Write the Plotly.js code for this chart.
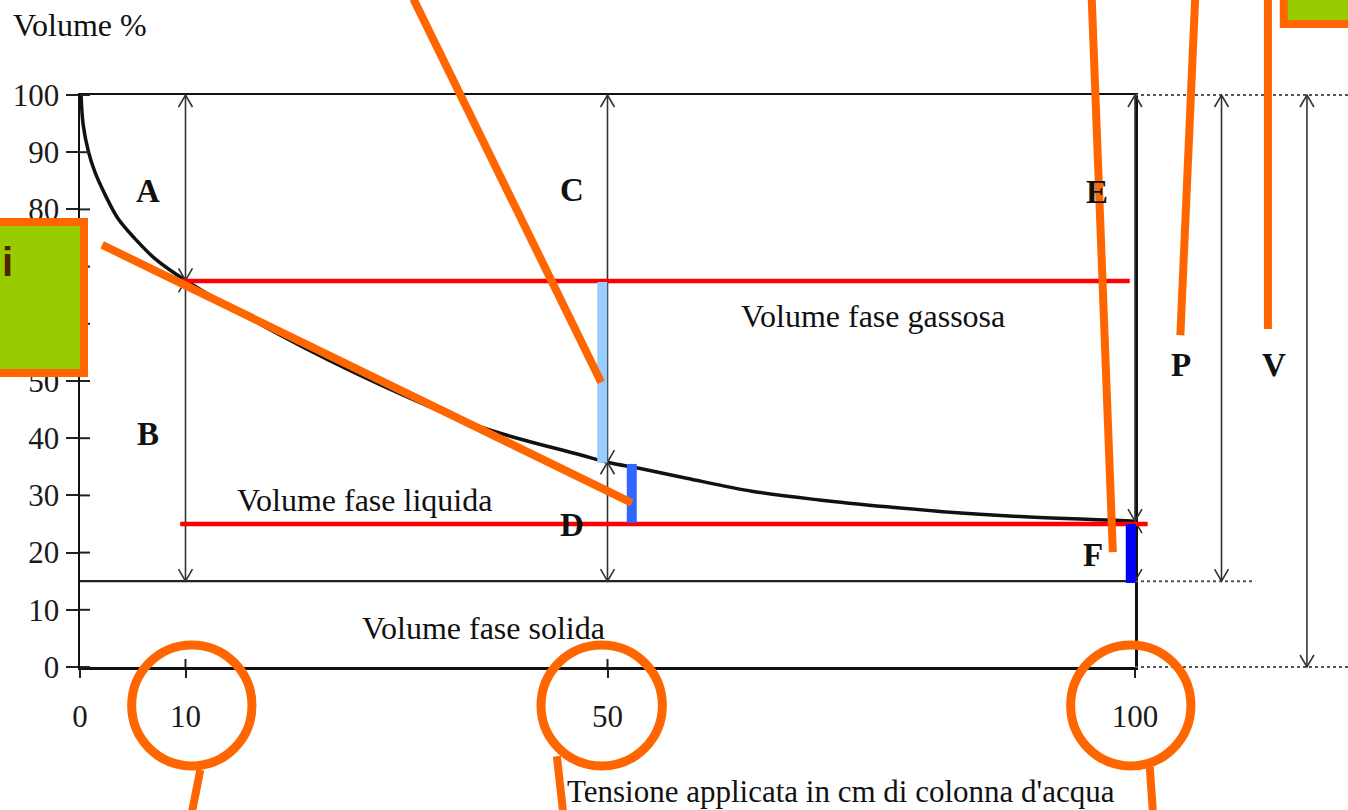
<!DOCTYPE html>
<html>
<head>
<meta charset="utf-8">
<script src="https://cdn.plot.ly/plotly-3.0.1.min.js"></script>
<style>
  body { margin: 0; background: #fff; }
  #chart { width: 1348px; height: 810px; }
</style>
</head>
<body>
<div id="chart"></div>
<script>
// curve: applied tension (cm water) vs volume %
const tension = [0.1, 0.3, 0.8, 1.4, 2.4, 3.6, 5.2, 7.1, 10, 19, 28.4, 37.9, 47.4, 50, 53.1, 57.5, 63.8, 70.1, 76.5, 82.8, 89.1, 100];
const volume = [100, 94.8, 90.1, 86.6, 82.5, 78.4, 74.9, 71.4, 67.6, 58, 49.4, 42, 37.1, 35.8, 34.7, 33.0, 30.7, 29.2, 28.0, 27.0, 26.3, 25.5];

const xTicks = [0, 10, 50, 100];
const yTicks = [0, 10, 20, 30, 40, 50, 60, 70, 80, 90, 100];

// phase levels
const solidTop = 15;
const levelAt10 = 67.6;
const levelAt50 = 35.8;
const levelAt100 = 25.5;

// double arrow columns (x, then the y stops between heads)
const arrowX = [10, 50, 100, 108.2, 116.3];
const arrowStops = [
  [100, levelAt10, solidTop],
  [100, levelAt50, solidTop],
  [100, levelAt100, solidTop],
  [100, solidTop],
  [100, 0],
];

const letters = ['A', 'B', 'C', 'D', 'E', 'F', 'P', 'V'];
const letterX = [6.4, 6.4, 46.6, 46.6, 96.4, 96.0, 104.4, 113.2];
const letterY = [83.2, 40.7, 83.4, 24.8, 83.0, 19.6, 52.8, 52.8];

const phaseText = ['Volume fase gassosa', 'Volume fase liquida', 'Volume fase solida'];
const phaseX = [75.2, 27.0, 38.2];
const phaseY = [61.4, 29.2, 6.8];

// highlight overlays added on top of the scan
const redY = [67.5, 25.0];
const redFrom = [9.6, 9.5];
const redTo = [99.5, 101.2];

const barX = [49.5, 52.3, 99.6];
const barFrom = [67.3, 35.5, 25.0];
const barTo = [35.7, 25.2, 14.7];
const barColor = ['#99CCFF', '#3366FF', '#0000FF'];

// orange pointer lines: [x0, y0, x1, y1]
const pointers = [
  [31.6, 116.8, 49.4, 49.8],
  [2.1, 73.8, 52.3, 28.7],
  [95.9, 116.8, 97.9, 20.1],
  [105.7, 116.8, 104.3, 58.0],
  [112.6, 116.8, 112.6, 59.1],
  [11.4, -18.0, 10.6, -25.5],
  [45.2, -15.6, 45.8, -25.5],
  [101.4, -17.5, 101.7, -25.5],
];

// circled ticks: [x0, x1, y0, y1]
const rings = [
  [4.9, 16.3, 3.85, -17.3],
  [43.7, 55.2, 3.85, -17.3],
  [93.9, 105.3, 3.85, -17.3],
];

// green boxes: [x0, x1, y0, y1]
const boxes = [
  [-12, 0.38, 51.4, 77.8],
  [114.1, 130, 112.4, 125],
];

const P = (v) => v / 100; // both axes run 0..100 over the full domain

function seg(x0, y0, x1, y1, color, width, dash) {
  return {
    type: 'line', xref: 'paper', yref: 'paper', layer: 'above',
    x0: P(x0), y0: P(y0), x1: P(x1), y1: P(y1),
    line: { color, width, dash: dash || 'solid' },
  };
}

function chevron(x, y, dir) {
  const dx = 0.66;
  const dy = 2.1 * dir;
  return {
    type: 'path', xref: 'paper', yref: 'paper', layer: 'above',
    path: `M ${P(x - dx)},${P(y - dy)} L ${P(x)},${P(y)} L ${P(x + dx)},${P(y - dy)}`,
    line: { color: '#333', width: 1.6 },
  };
}

const shapes = [];

// inner halves of the tick crosses
yTicks.forEach((v) => shapes.push(seg(0, v, 0.95, v, '#222', 2)));
[10, 50].forEach((v) => shapes.push(seg(v, 0, v, 1.4, '#222', 2)));

// solid phase line and dotted extensions
shapes.push(seg(0, solidTop, 100, solidTop, '#222', 2.2));
shapes.push(seg(100, 100, 120.5, 100, '#555', 2, 'dot'));
shapes.push(seg(100, solidTop, 111.4, solidTop, '#555', 2, 'dot'));
shapes.push(seg(100, 0, 120.5, 0, '#555', 2, 'dot'));

// double arrows
arrowX.forEach((x, i) => {
  const stops = arrowStops[i];
  for (let k = 0; k < stops.length - 1; k += 1) {
    const top = stops[k];
    const bot = stops[k + 1];
    shapes.push(seg(x, top, x, bot, '#333', 1.6));
    shapes.push(chevron(x, top, 1));
    shapes.push(chevron(x, bot, -1));
  }
});

redY.forEach((y, i) => shapes.push(seg(redFrom[i], y, redTo[i], y, '#FF0000', 4.5)));
barX.forEach((x, i) => shapes.push(seg(x, barFrom[i], x, barTo[i], barColor[i], 10)));

boxes.forEach((b) => shapes.push({
  type: 'rect', xref: 'paper', yref: 'paper', layer: 'above',
  x0: P(b[0]), x1: P(b[1]), y0: P(b[2]), y1: P(b[3]),
  fillcolor: '#99CC00', line: { color: '#FF6600', width: 8 },
}));

pointers.forEach((p) => shapes.push(seg(p[0], p[1], p[2], p[3], '#FF6600', 8)));

rings.forEach((r) => shapes.push({
  type: 'circle', xref: 'paper', yref: 'paper', layer: 'above',
  x0: P(r[0]), x1: P(r[1]), y0: P(r[2]), y1: P(r[3]),
  line: { color: '#FF6600', width: 9 },
}));

const serif = 'Liberation Serif, Times New Roman, serif';
const annotations = [];

letters.forEach((t, i) => annotations.push({
  xref: 'paper', yref: 'paper', x: P(letterX[i]), y: P(letterY[i]),
  text: `<b>${t}</b>`, showarrow: false, xanchor: 'center', yanchor: 'middle',
  font: { family: serif, size: 33, color: '#111' },
}));

phaseText.forEach((t, i) => annotations.push({
  xref: 'paper', yref: 'paper', x: P(phaseX[i]), y: P(phaseY[i]),
  text: t, showarrow: false, xanchor: 'center', yanchor: 'middle',
  font: { family: serif, size: 32, color: '#111' },
}));

annotations.push({
  xref: 'paper', yref: 'paper', x: P(0), y: P(112.2),
  text: 'Volume %', showarrow: false, xanchor: 'center', yanchor: 'middle',
  font: { family: serif, size: 32, color: '#111' },
});
annotations.push({
  xref: 'paper', yref: 'paper', x: P(72.1), y: P(-21.7),
  text: 'Tensione applicata in cm di colonna d\'acqua', showarrow: false,
  xanchor: 'center', yanchor: 'middle',
  font: { family: serif, size: 31, color: '#111' },
});
// cut-off word in the left callout box
annotations.push({
  xref: 'paper', yref: 'paper', x: P(-7.6), y: P(70.8),
  text: '<b>i</b>', showarrow: false, xanchor: 'left', yanchor: 'middle',
  font: { family: 'Liberation Sans, Arial, sans-serif', size: 40, color: '#4D2600' },
});

const tickFont = { family: serif, size: 31, color: '#1a1a1a' };

const layout = {
  width: 1348,
  height: 810,
  margin: { l: 80, r: 213, t: 95, b: 143, pad: 0 },
  paper_bgcolor: '#fff',
  plot_bgcolor: '#fff',
  showlegend: false,
  xaxis: {
    range: [0, 100],
    tickmode: 'array',
    tickvals: xTicks,
    ticks: 'outside',
    ticklen: 8,
    tickwidth: 2,
    tickcolor: '#222',
    ticklabelstandoff: 12,
    showline: true,
    linecolor: '#111',
    linewidth: 2.5,
    mirror: true,
    showgrid: false,
    zeroline: false,
    tickfont: tickFont,
    fixedrange: true,
  },
  yaxis: {
    range: [0, 100],
    tickmode: 'array',
    tickvals: yTicks,
    ticks: 'outside',
    ticklen: 12,
    tickwidth: 2,
    tickcolor: '#222',
    showline: true,
    linecolor: '#111',
    linewidth: 2.5,
    mirror: true,
    showgrid: false,
    zeroline: false,
    tickfont: tickFont,
    fixedrange: true,
  },
  shapes,
  annotations,
};

Plotly.newPlot(
  'chart',
  [
    {
      x: tension,
      y: volume,
      type: 'scatter',
      mode: 'lines',
      line: { color: '#111', width: 3.5, shape: 'spline', smoothing: 1 },
      cliponaxis: false,
      hoverinfo: 'skip',
    },
  ],
  layout,
  { displayModeBar: false, staticPlot: true },
);
</script>
</body>
</html>
